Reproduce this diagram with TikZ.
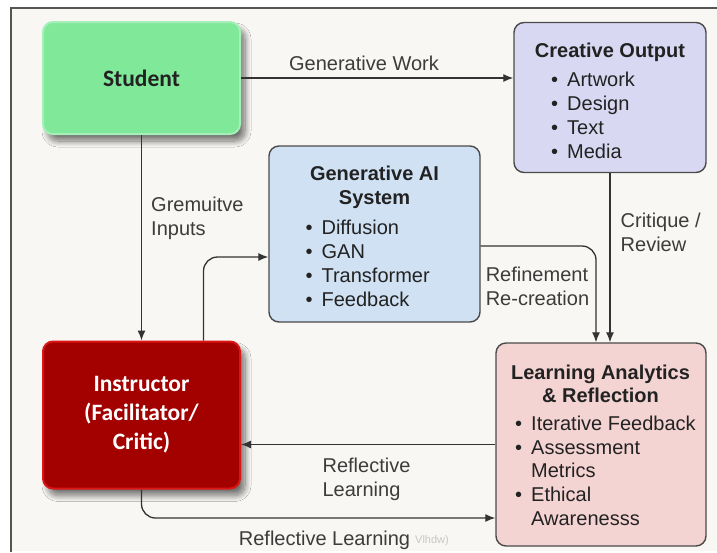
\documentclass[tikz,border=0pt]{standalone}
\usepackage{fontspec}
\setmainfont{Liberation Sans}
\newfontfamily\calibri{Carlito}
\usepackage{xcolor}
\usetikzlibrary{arrows.meta,shadows.blur}

\definecolor{bgcream}{HTML}{F8F7F3}
\definecolor{framegray}{HTML}{555555}
\definecolor{boxedge}{HTML}{4A4A4A}
\definecolor{arrowgray}{HTML}{333333}
\definecolor{labelgray}{HTML}{3C3C3C}
\definecolor{textdark}{HTML}{222222}
\definecolor{studentgreen}{HTML}{80E899}
\definecolor{studentedge}{HTML}{A4F0B8}
\definecolor{instrred}{HTML}{A30000}
\definecolor{instredge}{HTML}{DC1414}
\definecolor{creativefill}{HTML}{D9D8F2}
\definecolor{genaifill}{HTML}{CFE1F3}
\definecolor{learnfill}{HTML}{F4D4D3}

\newcommand{\itm}{\textbullet\hspace{9pt}}
\newcommand{\itmskip}{\hphantom{\textbullet\hspace{9pt}}}

\begin{document}
\begin{tikzpicture}[x=1pt, y=-1pt,
	box/.style={draw=boxedge, line width=1.4pt, rounded corners=10pt, inner sep=0pt},
	flow/.style={draw=arrowgray, line width=1.3pt, -{Latex[length=10pt,width=8pt]}},
	lbl/.style={text=labelgray, font=\fontsize{20}{24}\selectfont, align=left, inner sep=0pt},
	head/.style={text=textdark, font=\fontsize{20}{24}\selectfont\bfseries, align=center, inner sep=0pt},
	items/.style={text=textdark, font=\fontsize{20}{24}\selectfont, align=left, inner sep=0pt, anchor=north west},
	heavy/.style={font=\calibri\fontsize{23.5}{29}\selectfont\bfseries, align=center, inner sep=0pt},
	soft/.style={blur shadow={shadow xshift=5pt, shadow yshift=-7pt, shadow opacity=55,
		shadow blur radius=6pt, shadow blur steps=12}}]
	
	%Frame
	\useasboundingbox (0,0) rectangle (717,552);
	\fill[white] (0,0) rectangle (717,552);
	\fill[bgcream] (11,8) rectangle (717,551);
	\draw[framegray, line width=1.5pt] (717,8) -- (11,8) -- (11,552);
	
	%Boxes
	\node[box, draw=studentedge, line width=2pt, fill=studentgreen, text=textdark, heavy, soft,
		minimum width=197pt, minimum height=112pt] (student) at (141.5,78) {Student};
	\node[box, draw=instredge, line width=2pt, fill=instrred, text=white, heavy, soft,
		minimum width=197pt, minimum height=147pt] (instr) at (141.5,415) {Instructor\\(Facilitator/\\Critic)};
	\node[box, fill=creativefill, minimum width=192pt, minimum height=150pt] (creative) at (610,97.5) {};
	\node[box, fill=genaifill, minimum width=211pt, minimum height=176pt] (genai) at (374.5,234) {};
	\node[box, fill=learnfill, minimum width=210pt, minimum height=203pt] (learn) at (601,444.5) {};
	
	%Box texts
	\node[head, anchor=base] (creative-head) at (610,57.5) {Creative Output};
	\node[items] (creative-list) at (551,71.9) {\itm Artwork\\ \itm Design\\ \itm Text\\ \itm Media};
	\node[head, anchor=north] (genai-head) at (374.5,166.2) {Generative AI\\System};
	\node[items] (genai-list) at (305.4,219.5) {\itm Diffusion\\ \itm GAN\\ \itm Transformer\\ \itm Feedback};
	\node[head, anchor=north, font=\fontsize{20}{23}\selectfont\bfseries] (learn-head) at (600.5,364.4) {Learning Analytics\\\& Reflection};
	\node[items, font=\fontsize{20}{23.9}\selectfont] (learn-list) at (515,415.4)
		{\itm Iterative Feedback\\ \itm Assessment\\ \itmskip Metrics\\ \itm Ethical\\ \itmskip Awarenesss};
	
	%Connectors
	\draw[flow] (student.east) -- (student.east -| creative.west);
	\draw[flow] (student.south) -- (instr.north);
	\draw[flow, rounded corners=14pt] ([xshift=62pt]instr.north) |- ([yshift=-23pt]genai.west);
	\draw[flow, rounded corners=14pt] ([yshift=-12pt]genai.east) -| ([xshift=-5pt]learn.north);
	\draw[flow] (creative.south) -- (creative.south |- learn.north);
	\draw[flow] (learn.west) -- (learn.west -| instr.east);
	\draw[flow, rounded corners=14pt] (instr.south) |- ([yshift=-73.5pt]learn.west);
	
	%Labels
	\node[lbl, anchor=base] (work-lbl) at (364,70.4) {Generative Work};
	\node[lbl, anchor=north west] (inputs-lbl) at (151,196.5) {Gremuitve\\Inputs};
	\node[lbl, anchor=north west] (refine-lbl) at (485.6,266.5) {Refinement\\Re-creation};
	\node[lbl, anchor=north west] (critique-lbl) at (620.5,212.7) {Critique /\\Review};
	\node[lbl, anchor=north west] (reflect-lbl) at (322.4,458) {Reflective\\Learning};
	\node[lbl, anchor=base] (reflect2-lbl) at (324.5,545.9) {Reflective Learning};
	\node[lbl, anchor=base west, text=black!22, font=\fontsize{11}{13}\selectfont] (stray-lbl) at (415,543) {Vlhdw)};
\end{tikzpicture}
\end{document}
